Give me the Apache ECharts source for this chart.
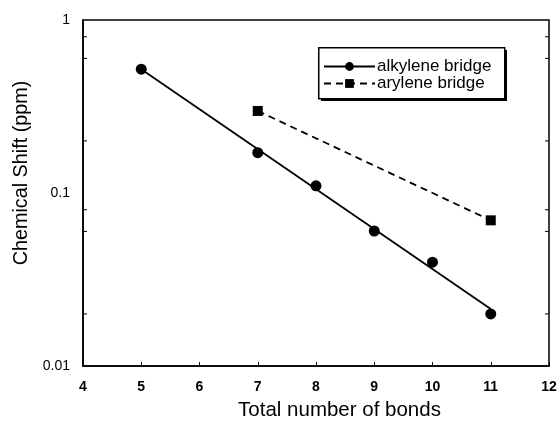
<!DOCTYPE html>
<html><head><meta charset="utf-8">
<script src="https://cdn.jsdelivr.net/npm/echarts@6/dist/echarts.min.js"></script>
<style>html,body{margin:0;padding:0;background:#fff}#c{width:560px;height:421px}</style>
</head><body><div id="c"></div>
<script>
const xTicks = [4,5,6,7,8,9,10,11,12];
const alkyleneX = [5,7,8,9,10,11];
const alkyleneY = [0.52,0.171,0.11,0.0603,0.0398,0.02];
const aryleneX = [7,11];
const aryleneY = [0.298,0.0695];
const minorTickValues = [0.02,0.06,0.08,0.2,0.6,0.8];

// exponential trendline (least squares in log10 space) for alkylene bridge
function expFit(xs, ys){
  const n = xs.length, ly = ys.map(v=>Math.log10(v));
  const mx = xs.reduce((a,b)=>a+b,0)/n, my = ly.reduce((a,b)=>a+b,0)/n;
  let sxy=0,sxx=0; xs.forEach((x,i)=>{sxy+=(x-mx)*(ly[i]-my);sxx+=(x-mx)*(x-mx);});
  const b = sxy/sxx;
  return x => Math.pow(10, my + b*(x-mx));
}
const f = expFit(alkyleneX, alkyleneY);
const xMin = Math.min(...alkyleneX), xMax = Math.max(...alkyleneX);
const fitData = [[xMin, f(xMin)], [xMax, f(xMax)]];

const FONT = 'Liberation Sans, Arial, sans-serif';
const chart = echarts.init(document.getElementById('c'), null, {renderer:'canvas'});
chart.setOption({
  backgroundColor:'#fff',
  animation:false,
  grid:{left:83,right:11,top:20,bottom:55,show:true,borderColor:'#000',borderWidth:1.5,backgroundColor:'transparent',
        containLabel:false, outerBoundsMode:'none'},
  graphic:[
    {type:'rect', left:321, top:50, shape:{width:186,height:51}, style:{fill:'#000'}, z:10},
    {type:'rect', left:318, top:47, shape:{width:186,height:51}, style:{fill:'#fff',stroke:'#000',lineWidth:1.5}, z:11}
  ],
  legend:{
    orient:'vertical', left:323, top:58, z:20,
    padding:0, itemGap:0, itemWidth:51, itemHeight:11,
    textStyle:{fontFamily:FONT,fontSize:17,lineHeight:17,color:'#000',padding:[0,0,0,-3]},
    data:['alkylene bridge','arylene bridge']
  },
  xAxis:{
    type:'value', min:xTicks[0], max:xTicks[xTicks.length-1], interval:1,
    name:'Total number of bonds', nameLocation:'middle', nameGap:34,
    nameTextStyle:{fontFamily:FONT,fontSize:20.5,color:'#000',padding:[0,0,0,47]},
    axisLine:{lineStyle:{color:'#000',width:1.5}},
    axisTick:{inside:true,length:4,lineStyle:{color:'#000'}},
    axisLabel:{fontFamily:FONT,fontSize:14,fontWeight:'bold',color:'#000',margin:14},
    splitLine:{show:false}
  },
  yAxis:{
    type:'log', logBase:10, min:0.01, max:1,
    name:'Chemical Shift (ppm)', nameLocation:'middle', nameGap:46,
    nameTextStyle:{fontFamily:FONT,fontSize:19.8,color:'#000',padding:[0,0,0,40]},
    axisLine:{lineStyle:{color:'#000',width:1.5}},
    axisTick:{show:false},
    axisLabel:{fontFamily:FONT,fontSize:14,color:'#000',margin:13},
    splitLine:{show:false}
  },
  series:[
    {
      name:'alkylene bridge', type:'line', data:fitData,
      symbol:'circle', symbolSize:11, showSymbol:false,
      itemStyle:{color:'#000'}, lineStyle:{color:'#000',width:1.8}, z:3
    },
    {
      name:'alkylene points', type:'scatter',
      data:alkyleneX.map((x,i)=>[x,alkyleneY[i]]),
      symbol:'circle', symbolSize:11, itemStyle:{color:'#000',opacity:1}, z:4
    },
    {
      name:'arylene bridge', type:'line',
      data:aryleneX.map((x,i)=>[x,aryleneY[i]]),
      symbol:'rect', symbolSize:10, showSymbol:true,
      itemStyle:{color:'#000',opacity:1}, lineStyle:{color:'#000',width:1.8,type:[7,5]}, z:4
    },
    {
      name:'minor ticks', type:'custom', silent:true,
      data:minorTickValues.map(v=>[v]),
      renderItem:function(params, api){
        const v = api.value(0);
        const l = api.coord([4, v]), r = api.coord([12, v]);
        return {type:'group',children:[
          {type:'line',shape:{x1:l[0],y1:l[1],x2:l[0]+4,y2:l[1]},style:{stroke:'#000',lineWidth:1}},
          {type:'line',shape:{x1:r[0]-4,y1:r[1],x2:r[0],y2:r[1]},style:{stroke:'#000',lineWidth:1}}
        ]};
      },
      encode:{y:0}, z:2
    }
  ]
});
</script></body></html>
